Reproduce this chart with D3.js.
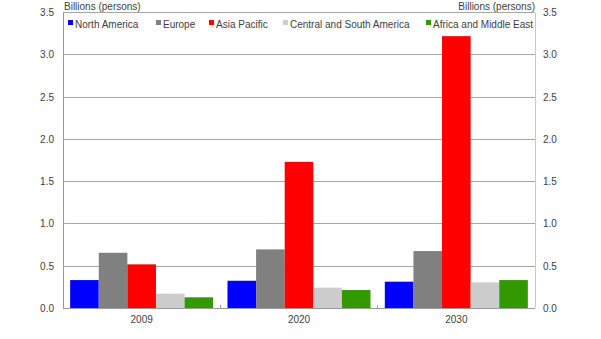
<!DOCTYPE html>
<html>
<head>
<meta charset="utf-8">
<script src="https://cdn.jsdelivr.net/npm/d3@7/dist/d3.min.js"></script>
<style>
  html, body { margin: 0; padding: 0; background: #fff; }
  svg { display: block; font-family: "Liberation Sans", Arial, sans-serif; }
</style>
</head>
<body>
<svg id="chart" width="601" height="339"></svg>
<script>
// Population by region, billions of persons
const years = ["2009", "2020", "2030"];
const regions = ["North America", "Europe", "Asia Pacific", "Central and South America", "Africa and Middle East"];
const northAmerica = [0.334, 0.326, 0.315];
const europe = [0.657, 0.697, 0.677];
const asiaPacific = [0.52, 1.733, 3.22];
const centralSouthAmerica = [0.173, 0.244, 0.307];
const africaMiddleEast = [0.13, 0.216, 0.334];
const yTicks = [0, 0.5, 1.0, 1.5, 2.0, 2.5, 3.0, 3.5];
const unitLabel = "Billions (persons)";

const colors = ["#0000ff", "#808080", "#ff0000", "#cccccc", "#339900"];
const seriesValues = [northAmerica, europe, asiaPacific, centralSouthAmerica, africaMiddleEast];

const svg = d3.select("#chart");
const plotLeft = 63, plotRight = 535, plotTop = 12.5, plotBottom = 308.3;

const x = d3.scaleBand().domain(years).range([plotLeft, plotRight]).padding(0);
const xInner = d3.scaleBand().domain(regions).range([0, x.bandwidth()])
  .paddingInner(0).paddingOuter(0.25);
const y = d3.scaleLinear().domain([0, 3.5]).range([plotBottom, plotTop]);

// gridlines
svg.append("g")
  .selectAll("line")
  .data(yTicks.filter(d => d > 0))
  .join("line")
  .attr("x1", plotLeft).attr("x2", plotRight)
  .attr("y1", d => y(d)).attr("y2", d => y(d))
  .attr("stroke", "#a6a6a6").attr("stroke-width", 1)
  .attr("shape-rendering", "crispEdges");

// bars
const groups = svg.append("g")
  .selectAll("g")
  .data(years)
  .join("g")
  .attr("transform", d => `translate(${x(d)},0)`);

groups.selectAll("rect")
  .data((yr, i) => regions.map((r, j) => ({ region: r, value: seriesValues[j][i], color: colors[j] })))
  .join("rect")
  .attr("x", d => xInner(d.region))
  .attr("width", xInner.bandwidth())
  .attr("y", d => y(d.value))
  .attr("height", d => y(0) - y(d.value))
  .attr("fill", d => d.color);

// frame: left axis, right axis, bottom
const frame = svg.append("g").attr("shape-rendering", "crispEdges");
frame.append("line").attr("x1", plotLeft).attr("x2", plotLeft).attr("y1", plotTop).attr("y2", plotBottom)
  .attr("stroke", "#999");
frame.append("line").attr("x1", plotRight).attr("x2", plotRight).attr("y1", plotTop).attr("y2", plotBottom)
  .attr("stroke", "#c8c8c8");
frame.append("line").attr("x1", plotLeft).attr("x2", plotRight).attr("y1", plotBottom).attr("y2", plotBottom)
  .attr("stroke", "#999");

// category boundary ticks
frame.selectAll("line.tick")
  .data(years.slice(1))
  .join("line")
  .attr("class", "tick")
  .attr("x1", d => x(d)).attr("x2", d => x(d))
  .attr("y1", plotBottom - 3).attr("y2", plotBottom)
  .attr("stroke", "#999");

// y axes (left and right)
const fmt = d3.format(".1f");
const textColor = "#404040";
const yl = svg.append("g").attr("transform", `translate(${plotLeft},0)`)
  .call(d3.axisLeft(y).tickValues(yTicks).tickFormat(fmt).tickSize(0).tickPadding(9));
const yr = svg.append("g").attr("transform", `translate(${plotRight},0)`)
  .call(d3.axisRight(y).tickValues(yTicks).tickFormat(fmt).tickSize(0).tickPadding(8));
[yl, yr].forEach(g => {
  g.select(".domain").remove();
  g.selectAll("text").attr("font-size", 10).attr("fill", textColor)
    .attr("font-family", "Liberation Sans, Arial, sans-serif");
});

// x axis labels
const xa = svg.append("g").attr("transform", `translate(0,${plotBottom})`)
  .call(d3.axisBottom(x).tickSize(0).tickPadding(8));
xa.select(".domain").remove();
xa.selectAll("text").attr("font-size", 10).attr("fill", textColor)
  .attr("font-family", "Liberation Sans, Arial, sans-serif");

// unit labels
svg.append("text").attr("x", 64).attr("y", 10).attr("font-size", 10)
  .attr("fill", textColor).text(unitLabel);
svg.append("text").attr("x", plotRight).attr("y", 10).attr("font-size", 10)
  .attr("text-anchor", "end").attr("fill", textColor).text(unitLabel);

// legend
const legendX = [68, 156, 209, 283, 426];
const legend = svg.append("g").selectAll("g")
  .data(regions)
  .join("g")
  .attr("transform", (d, i) => `translate(${legendX[i]},24)`);
legend.append("rect").attr("x", 0).attr("y", -4).attr("width", 5).attr("height", 5)
  .attr("fill", (d, i) => colors[i]);
legend.append("text").attr("x", 7).attr("y", 0).attr("dy", "0.35em")
  .attr("font-size", 10).attr("fill", textColor).text(d => d);
</script>
</body>
</html>
